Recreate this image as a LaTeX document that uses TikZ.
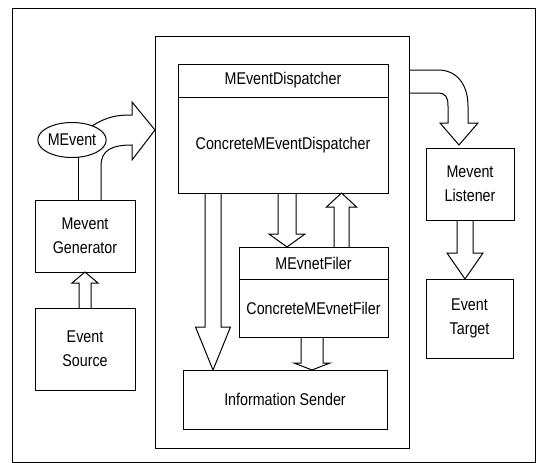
\documentclass[tikz,border=0pt]{standalone}
\usepackage{fontspec}
\setmainfont{Liberation Sans}[FakeStretch=0.84]
\usetikzlibrary{calc,positioning,shapes.geometric}
\tikzset{
  box/.style={
    rectangle, draw, line width=1pt, inner sep=0pt, outer sep=0pt,
    align=center, font=\fontsize{17}{24}\selectfont
  },
  oval/.style={
    ellipse, draw, line width=1pt, inner sep=0pt, outer sep=0pt,
    minimum width=65pt, minimum height=35pt,
    font=\fontsize{17}{24}\selectfont
  },
  hollow/.style={draw, line width=1pt, line join=miter},
  wire/.style={draw, line width=0.9pt},
  frame/.style={draw, line width=0.8pt},
}
% hollow block arrow: from, to, shaft half width, head half width, head length
\newcommand\fatarrow[5]{%
  \draw[hollow] let \p1=(#1), \p2=(#2), \n1={sign(\y2-\y1)*#5} in
    ({\x1-#3},\y1) -- ({\x1-#3},{\y2-\n1}) -- ({\x1-#4},{\y2-\n1}) -- (\x1,\y2)
    -- ({\x1+#4},{\y2-\n1}) -- ({\x1+#3},{\y2-\n1}) -- ({\x1+#3},\y1);}

\begin{document}
\begin{tikzpicture}[x=1pt, y=-1pt]
  \useasboundingbox (0,0) rectangle (536,463);
  \draw[frame] (12,8) rectangle (535,462);

  % Nodes
  \node[box, minimum width=254pt, minimum height=412pt] (cont) at (282,242) {};
  \node[box, minimum width=210pt, minimum height=33pt] (dhead) at (283,80.5)
    {MEventDispatcher};
  \node[box, minimum width=210pt, minimum height=96pt, below=0pt of dhead] (dbody)
    {ConcreteMEventDispatcher};
  \node[box, minimum width=149pt, minimum height=32pt] (fhead) at (313.5,263)
    {MEvnetFiler};
  \node[box, minimum width=149pt, minimum height=58pt, below=0pt of fhead] (fbody)
    {ConcreteMEvnetFiler};
  \node[box, minimum width=204pt, minimum height=59pt] (sender) at (285,399.5)
    {Information Sender};

  \node[oval] (mevent) at (72,140) {MEvent};
  \node[box, minimum width=100pt, minimum height=72pt] (gen) at (85,236)
    {Mevent\\Generator};
  \node[box, minimum width=100pt, minimum height=82pt] (src) at (85,349)
    {Event\\Source};
  \node[box, minimum width=88pt, minimum height=72pt] (listen) at (470,184)
    {Mevent\\Listener};
  \node[box, minimum width=87pt, minimum height=79pt] (target) at (469.5,318.5)
    {Event\\Target};

  % Arrows
  \fatarrow{src.north}{gen.south}{6pt}{13pt}{11pt}
  \fatarrow{[xshift=-70pt]dbody.south}{sender.north}{8pt}{17.5pt}{43pt}
  \fatarrow{[xshift=4pt]dbody.south}{fhead.north}{9pt}{18pt}{13pt}
  \fatarrow{[xshift=28pt]fhead.north}{dbody.south}{7.5pt}{15pt}{14pt}
  \fatarrow{[xshift=-1.5pt]fbody.south}{sender.north}{11pt}{18pt}{7pt}
  \fatarrow{[xshift=-5pt]listen.south}{target.north}{8pt}{18pt}{26pt}

  % MEvent into the dispatcher
  \draw[wire] (mevent.-70) -- (mevent.-70 |- gen.north);
  \draw[hollow] (mevent.35) .. controls (108,116) and (118,115) .. (132,115)
    -- (132,102) -- (cont.west |- 0,130) -- (132,160) -- (132,145)
    .. controls (112,145) and (101,150) .. (101,166) -- (101,166 |- gen.north);

  % dispatcher out to the listener
  \draw[hollow] (cont.east |- 0,70) -- (438,70)
    .. controls (458,70) and (468,86) .. (468,106) -- (468,123) -- (478,123)
    -- (459,145) -- (440,123) -- (448,123) -- (448,106)
    .. controls (448,97) and (446,93) .. (437,93) -- (cont.east |- 0,93);
\end{tikzpicture}
\end{document}
